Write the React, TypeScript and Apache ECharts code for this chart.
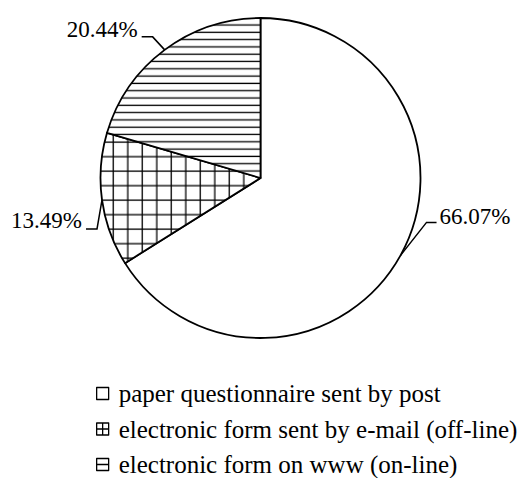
import React, { useEffect, useRef } from "react";
import * as echarts from "echarts";

// Survey response channels and their shares (%)
const categories = [
  "paper questionnaire sent by post",
  "electronic form sent by e-mail (off-line)",
  "electronic form on www (on-line)",
];
const shares = [66.07, 13.49, 20.44];

// Leader-line shape per slice: bend offset from the slice edge, then a short horizontal tail
const leaderBend = [
  [26, -33],
  [-5, 29],
  [-12, -13],
];
const leaderTail = [10, -11, -11];
const labelNudge = [
  [3, -6],
  [-4, -8],
  [-4, -7],
];

const svgTile = (w: number, h: number, body: string) =>
  "data:image/svg+xml;charset=utf-8," +
  encodeURIComponent(
    `<svg xmlns='http://www.w3.org/2000/svg' width='${w}' height='${h}'><rect width='${w}' height='${h}' fill='white'/>${body}</svg>`
  );

// Cross-hatched grid fill
const gridFill = {
  image: svgTile(
    14.5,
    14.5,
    "<rect x='11.15' y='0' width='1.3' height='14.5' fill='black'/><rect x='0' y='11.05' width='14.5' height='1.3' fill='black'/>"
  ),
  imageWidth: 14.5,
  imageHeight: 14.5,
  repeat: "repeat",
};

// Horizontal stripe fill
const stripeFill = {
  image: svgTile(10, 7.3, "<rect x='0' y='2.45' width='10' height='1.3' fill='black'/>"),
  imageWidth: 10,
  imageHeight: 7.3,
  repeat: "repeat",
};

const fills: any[] = ["#ffffff", gridFill, stripeFill];

const legendIcons = [
  "path://M0,0L12,0L12,12L0,12Z",
  "path://M0,0L12,0L12,12L0,12Z M0,6L12,6 M6,0L6,12",
  "path://M0,0L12,0L12,12L0,12Z M0,6L12,6",
];

const FONT = "'Liberation Serif', 'Times New Roman', serif";

export default function App() {
  const ref = useRef<HTMLDivElement>(null);

  useEffect(() => {
    if (!ref.current) return;
    const chart = echarts.init(ref.current, undefined, { renderer: "svg" });

    const center = [260.5, 178];
    const radius = 160;

    chart.setOption({
      animation: false,
      backgroundColor: "#ffffff",
      legend: {
        orient: "vertical",
        left: 96,
        top: 381,
        height: 120,
        padding: 0,
        itemWidth: 12,
        itemHeight: 12,
        itemGap: 10.5,
        selectedMode: false,
        data: categories.map((name, i) => ({
          name,
          icon: legendIcons[i],
          itemStyle: { color: "#ffffff", borderColor: "#000", borderWidth: 1.3 },
        })),
        itemStyle: { color: "#ffffff", borderColor: "#000", borderWidth: 1.3 },
        textStyle: {
          fontFamily: FONT,
          fontSize: 25,
          color: "#000",
          padding: [0, 0, 4, 5],
        },
      },
      series: [
        {
          type: "pie",
          center,
          radius,
          startAngle: 90,
          clockwise: true,
          avoidLabelOverlap: false,
          data: categories.map((name, i) => ({
            name,
            value: shares[i],
            itemStyle: { color: fills[i] },
          })),
          itemStyle: { borderColor: "#000", borderWidth: 1.8 },
          emphasis: { disabled: true },
          label: {
            show: true,
            position: "outside",
            fontFamily: FONT,
            fontSize: 23,
            color: "#000",
            formatter: (p: any) => `${Number(p.value).toFixed(2)}%`,
          },
          labelLine: {
            show: true,
            length: 20,
            length2: 10,
            lineStyle: { color: "#000", width: 1.5 },
          },
          labelLayout: (p: any) => {
            const i = p.dataIndex;
            let start: number[];
            if (p.labelLinePoints && p.labelLinePoints[0]) {
              start = [p.labelLinePoints[0][0], p.labelLinePoints[0][1]];
            } else {
              // mid-angle point on the rim, measured clockwise from the top
              const before = shares.slice(0, i).reduce((a, b) => a + b, 0);
              const total = shares.reduce((a, b) => a + b, 0);
              const a = ((before + shares[i] / 2) / total) * 2 * Math.PI;
              start = [center[0] + radius * Math.sin(a), center[1] - radius * Math.cos(a)];
            }
            const bend = [start[0] + leaderBend[i][0], start[1] + leaderBend[i][1]];
            const end = [bend[0] + leaderTail[i], bend[1]];
            return {
              x: end[0] + labelNudge[i][0],
              y: end[1] + labelNudge[i][1],
              align: leaderTail[i] > 0 ? "left" : "right",
              verticalAlign: "middle",
              labelLinePoints: [start, bend, end],
            };
          },
        },
      ],
    });

    return () => chart.dispose();
  }, []);

  return (
    <div
      ref={ref}
      style={{ position: "fixed", left: 0, top: 0, width: 520, height: 478 }}
    />
  );
}
